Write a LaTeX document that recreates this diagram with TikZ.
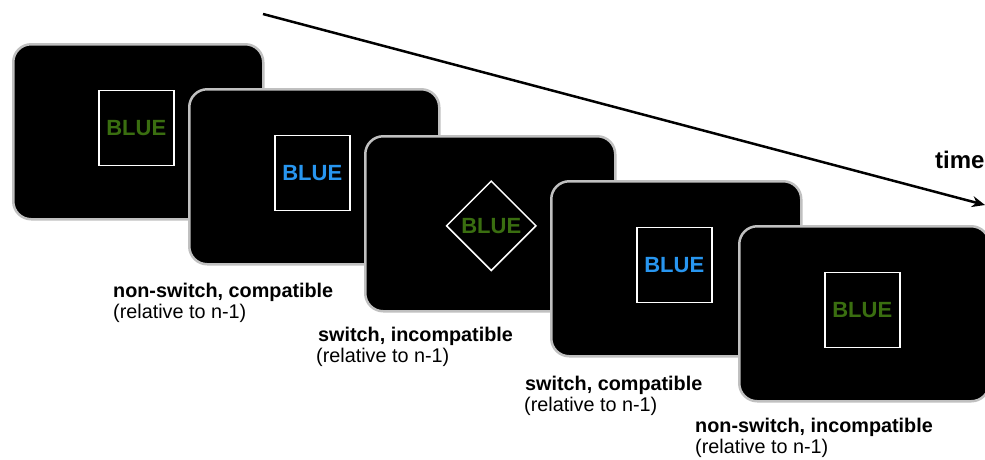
\documentclass[tikz,border=0pt]{standalone}
\usepackage{fontspec}
\setmainfont{Liberation Sans}
\usetikzlibrary{shapes.geometric,arrows.meta}
\definecolor{wordgreen}{RGB}{58,110,16}
\definecolor{wordblue}{RGB}{40,150,240}
\definecolor{rim}{RGB}{192,192,192}
\tikzset{
  screen/.style={draw=rim, line width=2.5pt, fill=black, rounded corners=18pt,
    minimum width=250pt, minimum height=175pt, anchor=north west, inner sep=0pt},
  frame/.style={draw=white, line width=1.5pt, minimum size=75pt, inner sep=0pt},
  rhomb/.style={draw=white, line width=1.5pt, diamond, minimum size=90pt, inner sep=0pt},
  word/.style={font=\fontsize{22}{24}\selectfont\bfseries, inner sep=0pt},
  cond/.style={font=\fontsize{19.8}{22}\selectfont\bfseries, anchor=base west, inner sep=0pt},
  rel/.style={font=\fontsize{19.8}{22}\selectfont, anchor=base west, inner sep=0pt},
}
\begin{document}
\begin{tikzpicture}[x=1pt,y=-1pt]
\useasboundingbox (0,0) rectangle (985,459);

% time axis
\coordinate (t0) at (263,14);
\coordinate (t1) at (985,205);
\draw[line width=2.5pt, -{Stealth[length=13pt,width=11pt]}] (t0) -- (t1);
\node[font=\fontsize{24}{26}\selectfont\bfseries, anchor=base west, inner sep=0pt] (time) at (935,168) {time};

% trial 1
\node[screen] (s1) at (12,43) {};
\node[frame] (f1) at ([shift={(-2,-4)}]s1.center) {};
\node[word, text=wordgreen] (w1) at (f1.center) {BLUE};

% trial 2
\node[screen] (s2) at (188,88) {};
\node[frame] (f2) at ([shift={(-2,-4)}]s2.center) {};
\node[word, text=wordblue] (w2) at (f2.center) {BLUE};

% trial 3
\node[screen] (s3) at (364,135) {};
\node[rhomb] (f3) at ([shift={(1,2)}]s3.center) {};
\node[word, text=wordgreen] (w3) at (f3.center) {BLUE};

% trial 4
\node[screen] (s4) at (550,180) {};
\node[frame] (f4) at ([shift={(-2,-4)}]s4.center) {};
\node[word, text=wordblue] (w4) at (f4.center) {BLUE};

% trial 5
\node[screen] (s5) at (738,225) {};
\node[frame] (f5) at ([shift={(-2,-4)}]s5.center) {};
\node[word, text=wordgreen] (w5) at (f5.center) {BLUE};

% condition labels
\node[cond] (c2) at (113,297) {non-switch, compatible};
\node[rel]  (r2) at (113,318) {(relative to n-1)};
\node[cond] (c3) at (318,341) {switch, incompatible};
\node[rel]  (r3) at (316,362) {(relative to n-1)};
\node[cond] (c4) at (525,390) {switch, compatible};
\node[rel]  (r4) at (524,411) {(relative to n-1)};
\node[cond] (c5) at (695,432) {non-switch, incompatible};
\node[rel]  (r5) at (695,453) {(relative to n-1)};
\end{tikzpicture}
\end{document}
